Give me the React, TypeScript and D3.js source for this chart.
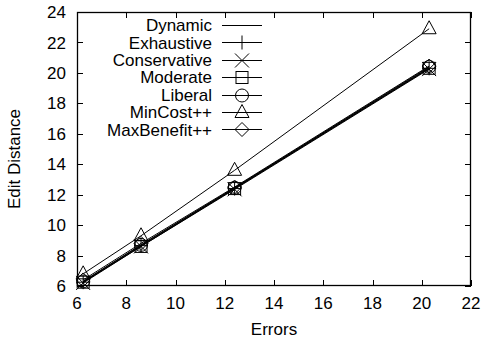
import * as d3 from "d3";

const ERRORS = [6.25, 8.6, 12.4, 20.3];
const SERIES_NAMES = ["Dynamic", "Exhaustive", "Conservative", "Moderate", "Liberal", "MinCost++", "MaxBenefit++"];
const DYNAMIC = [6.3, 8.7, 12.45, 20.35];
const EXHAUSTIVE = [6.25, 8.65, 12.4, 20.3];
const CONSERVATIVE = [6.2, 8.6, 12.35, 20.25];
const MODERATE = [6.25, 8.6, 12.4, 20.3];
const LIBERAL = [6.3, 8.7, 12.45, 20.4];
const MINCOST = [6.8, 9.3, 13.6, 22.9];
const MAXBENEFIT = [6.4, 8.8, 12.5, 20.45];
const SERIES_VALUES = [DYNAMIC, EXHAUSTIVE, CONSERVATIVE, MODERATE, LIBERAL, MINCOST, MAXBENEFIT];
const MARKERS = ["none", "plus", "cross", "square", "circle", "triangle", "diamond"];
const X_TICKS = [6, 8, 10, 12, 14, 16, 18, 20, 22];
const Y_TICKS = [6, 8, 10, 12, 14, 16, 18, 20, 22, 24];

const W = 483;
const H = 341;
const L = 77, R = 471, T = 12, B = 286;
const FONT = "'Liberation Sans', Arial, Helvetica, sans-serif";
const FS = 17;

function Marker({ type, x, y }: { type: string; x: number; y: number }) {
	const s = 7;
	const p = { fill: "none", stroke: "#000", strokeWidth: 1 };
	switch (type) {
		case "plus":
			return <path d={`M${x - s},${y}H${x + s}M${x},${y - s}V${y + s}`} {...p} />;
		case "cross":
			return <path d={`M${x - s},${y - s}L${x + s},${y + s}M${x - s},${y + s}L${x + s},${y - s}`} {...p} />;
		case "square":
			return <rect x={x - 6} y={y - 6} width={12} height={12} {...p} />;
		case "circle":
			return <circle cx={x} cy={y} r={6.5} {...p} />;
		case "triangle":
			return <path d={`M${x},${y - 8}L${x + 7},${y + 5}L${x - 7},${y + 5}Z`} {...p} />;
		case "diamond":
			return <path d={`M${x},${y - 7}L${x + 7},${y}L${x},${y + 7}L${x - 7},${y}Z`} {...p} />;
		default:
			return null;
	}
}

export default function App() {
	const x = d3.scaleLinear().domain([6, 22]).range([L, R]);
	const y = d3.scaleLinear().domain([6, 24]).range([B, T]);
	const line = d3
		.line<number>()
		.x((_, i) => x(ERRORS[i]))
		.y((d) => y(d));

	return (
		<svg width={W} height={H} style={{ position: "absolute", left: 0, top: 0 }} fontFamily={FONT}>
			<rect width={W} height={H} fill="#fff" />
			{/* ticks */}
			{X_TICKS.map((t) => (
				<g key={"x" + t}>
					<path d={`M${Math.round(x(t)) + 0.5},${B}v-6M${Math.round(x(t)) + 0.5},${T}v6`} stroke="#000" />
					<text x={x(t)} y={309} fontSize={FS} textAnchor="middle">
						{t}
					</text>
				</g>
			))}
			{Y_TICKS.map((t) => (
				<g key={"y" + t}>
					<path d={`M${L},${Math.round(y(t)) + 0.5}h6M${R},${Math.round(y(t)) + 0.5}h-6`} stroke="#000" />
					<text x={66} y={y(t)} dy="0.36em" fontSize={FS} textAnchor="end">
						{t}
					</text>
				</g>
			))}
			<rect x={L + 0.5} y={T + 0.5} width={R - L - 1} height={B - T - 1} fill="none" stroke="#000" strokeWidth={1.3} />

			{/* series */}
			{SERIES_VALUES.map((vals, si) => (
				<g key={SERIES_NAMES[si]}>
					<path d={line(vals) ?? ""} fill="none" stroke="#000" strokeWidth={1} />
					{vals.map((v, i) => (
						<Marker key={i} type={MARKERS[si]} x={x(ERRORS[i])} y={y(v)} />
					))}
				</g>
			))}

			{/* legend */}
			{SERIES_NAMES.map((name, i) => {
				const ly = 25 + i * 17.4;
				return (
					<g key={"lg" + name}>
						<text x={212} y={ly} dy="0.36em" fontSize={FS} textAnchor="end">
							{name}
						</text>
						<path d={`M222,${Math.round(ly) + 0.5}H262`} stroke="#000" />
						<Marker type={MARKERS[i]} x={242} y={Math.round(ly) + 0.5} />
					</g>
				);
			})}

			{/* axis labels */}
			<text x={274} y={335} fontSize={FS} textAnchor="middle">
				Errors
			</text>
			<text transform={`translate(20,159) rotate(-90)`} fontSize={FS} textAnchor="middle">
				Edit Distance
			</text>
		</svg>
	);
}
